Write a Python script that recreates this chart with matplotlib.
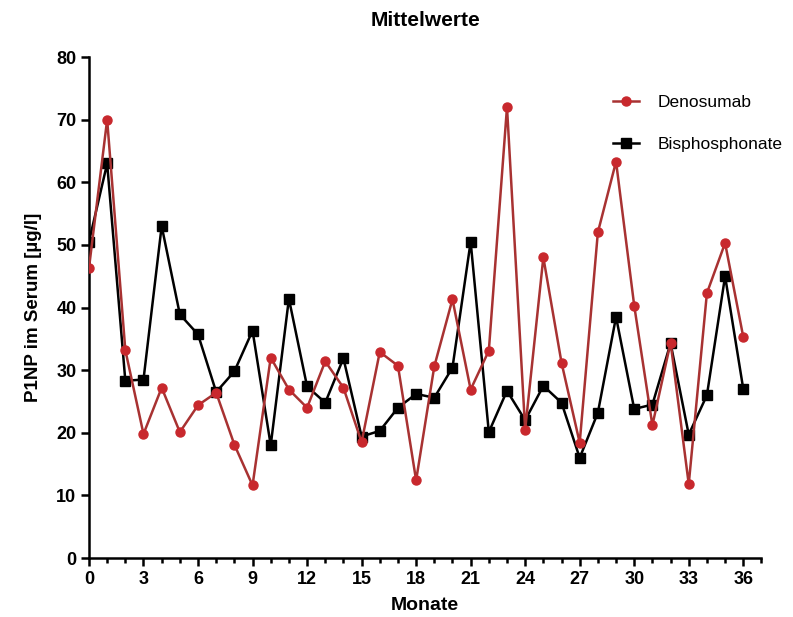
import matplotlib
matplotlib.use("Agg")
import matplotlib.pyplot as plt
from matplotlib.ticker import MultipleLocator

# values
monate = list(range(37))
denosumab = [46.3, 70.0, 33.2, 19.8, 27.2, 20.1, 24.4, 26.4, 18.1, 11.6,
             32.0, 26.9, 24.0, 31.4, 27.2, 18.5, 32.9, 30.7, 12.4, 30.6,
             41.3, 26.9, 33.1, 72.0, 20.5, 48.0, 31.2, 18.4, 52.0, 63.3,
             40.3, 21.2, 34.4, 11.8, 42.3, 50.3, 35.3]
bisphosphonate = [50.5, 63.0, 28.3, 28.5, 53.0, 38.9, 35.7, 26.5, 29.8, 36.3,
                  18.0, 41.4, 27.4, 24.8, 31.9, 19.4, 20.3, 24.0, 26.2, 25.6,
                  30.4, 50.5, 20.1, 26.7, 22.0, 27.5, 24.8, 16.0, 23.2, 38.5,
                  23.8, 24.5, 34.3, 19.7, 26.0, 45.0, 27.0]

plt.rcParams['font.family'] = ['Liberation Sans', 'DejaVu Sans']

fig = plt.figure(figsize=(7.93, 6.17), dpi=100)
ax = fig.add_axes([0.1122, 0.0956, 0.848, 0.812])

ax.plot(monate, denosumab, color='#a83232', lw=1.8, marker='o', ms=6.5,
        markerfacecolor='#c8282d', markeredgecolor='#c8282d', label='Denosumab',
        zorder=3)
ax.plot(monate, bisphosphonate, color='black', lw=1.8, marker='s', ms=7.5,
        label='Bisphosphonate', zorder=2)

ax.set_xlim(0, 37)
ax.set_ylim(0, 80)
ax.xaxis.set_major_locator(MultipleLocator(3))
ax.xaxis.set_minor_locator(MultipleLocator(1))
ax.yaxis.set_major_locator(MultipleLocator(10))
ax.set_xticks(range(0, 37, 3))

for s in ['top', 'right']:
    ax.spines[s].set_visible(False)
for s in ['left', 'bottom']:
    ax.spines[s].set_linewidth(1.8)
ax.spines['bottom'].set_bounds(0, 37)

ax.tick_params(axis='both', which='major', direction='out', length=6, width=1.8,
               pad=3)
ax.tick_params(axis='x', which='minor', direction='out', length=3.5, width=1.8)
for lab in ax.get_xticklabels() + ax.get_yticklabels():
    lab.set_fontweight('bold')
    lab.set_fontsize(13)

ax.set_xlabel('Monate', fontsize=14, fontweight='bold', labelpad=7)
ax.set_ylabel('P1NP im Serum [µg/l]', fontsize=13.5, fontweight='bold', labelpad=10)
ax.set_title('Mittelwerte', fontsize=15, fontweight='bold', pad=22)

leg = ax.legend(loc='upper right', bbox_to_anchor=(1.055, 0.955), frameon=False,
                fontsize=12.5, handlelength=1.5, labelspacing=1.55, handletextpad=1.1)

fig.savefig('out.png', dpi=100)
